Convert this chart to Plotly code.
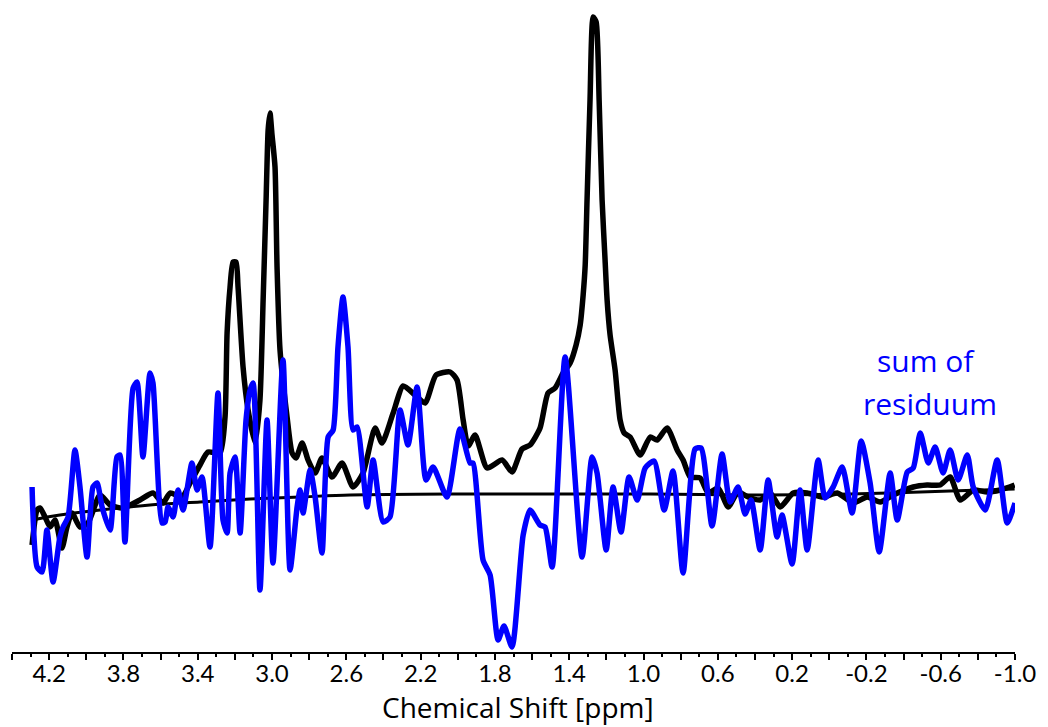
import plotly.graph_objects as go

# ---- data (ppm, arbitrary intensity units) ----
spec_ppm = [4.292, 4.265, 4.249, 4.222, 4.195, 4.168, 4.131, 4.104, 4.077, 4.034, 3.991, 3.926, 3.872, 3.802,
            3.711, 3.641, 3.587, 3.549, 3.485, 3.441, 3.388, 3.345, 3.280, 3.253, 3.242, 3.226, 3.210, 3.194,
            3.183, 3.156, 3.129, 3.091, 3.065, 3.048, 3.032, 3.021, 3.011, 3.000, 2.984, 2.973, 2.957, 2.919,
            2.892, 2.871, 2.838, 2.806, 2.768, 2.731, 2.677, 2.623, 2.564, 2.510, 2.445, 2.408, 2.348, 2.294,
            2.230, 2.176, 2.117, 2.041, 2.004, 1.971, 1.944, 1.907, 1.842, 1.761, 1.708, 1.654, 1.611, 1.557,
            1.514, 1.476, 1.433, 1.395, 1.363, 1.341, 1.325, 1.314, 1.304, 1.288, 1.271, 1.255, 1.239, 1.223,
            1.207, 1.196, 1.180, 1.153, 1.126, 1.104, 1.072, 1.018, 0.964, 0.927, 0.873, 0.819, 0.787, 0.749,
            0.695, 0.652, 0.598, 0.544, 0.491, 0.437, 0.372, 0.318, 0.264, 0.194, 0.119, 0.033, -0.043, -0.129,
            -0.204, -0.274, -0.344, -0.452, -0.527, -0.597, -0.651, -0.705, -0.775, -0.850, -0.920, -0.998]
spec_int = [-5.1, -1.6, -1.4, -2.3, -3.3, -2.6, -5.4, -3.3, -1.9, -3.3, -2.9, -0.1, -1.1, -1.4,
            -0.6, 0.1, -0.9, 0.1, -0.3, 1.1, 2.9, 4.2, 4.1, 7.7, 16.1, 20.7, 23.2, 23.2,
            20.7, 12.7, 8.4, 5.1, 9.4, 19.4, 29.4, 36.4, 38.1, 35.9, 32.7, 22.7, 14.4, 7.7,
            4.1, 3.6, 5.1, 3.4, 2.1, 3.6, 1.7, 3.1, 0.7, 2.1, 6.6, 5.1, 8.1, 10.8,
            9.9, 9.1, 11.9, 12.2, 11.4, 7.4, 4.8, 5.9, 2.6, 3.4, 2.2, 4.5, 4.9, 6.6,
            10.1, 10.6, 12.1, 13.1, 14.9, 16.9, 19.9, 22.9, 29.4, 39.4, 47.7, 47.2, 39.4, 29.4,
            23.4, 19.4, 15.9, 12.4, 7.4, 6.1, 5.7, 3.9, 5.7, 5.4, 6.6, 4.4, 3.4, 1.7,
            1.6, 0.1, 0.6, -1.3, 0.2, -0.3, -0.6, 0.1, -1.3, 0.1, 0.1, -0.3, 0.1, -0.9,
            -0.3, -0.8, -0.1, 0.7, 0.9, 0.9, 1.7, -0.6, 0.4, 0.2, 0.4, 0.9]

base_ppm = [4.292, 4.142, 3.926, 3.657, 3.388, 3.118, 2.849, 2.580, 2.041, 1.503, 0.964, 0.426, -0.113, -0.651, -0.998]
base_int = [-2.6, -2.1, -1.6, -1.1, -0.8, -0.5, -0.3, -0.1, 0.0, 0.0, 0.0, -0.1, 0.0, 0.3, 0.5]

res_ppm = [4.292, 4.265, 4.238, 4.212, 4.179, 4.142, 4.125, 4.098, 4.061, 4.034, 3.996, 3.964, 3.942, 3.915,
           3.872, 3.835, 3.818, 3.792, 3.748, 3.727, 3.695, 3.657, 3.641, 3.592, 3.576, 3.560, 3.533, 3.506,
           3.479, 3.431, 3.404, 3.377, 3.334, 3.291, 3.264, 3.242, 3.226, 3.199, 3.172, 3.140, 3.118, 3.102,
           3.065, 3.027, 2.995, 2.941, 2.903, 2.865, 2.849, 2.833, 2.795, 2.768, 2.731, 2.698, 2.671, 2.645,
           2.618, 2.591, 2.564, 2.542, 2.488, 2.456, 2.402, 2.365, 2.311, 2.268, 2.219, 2.171, 2.133, 2.058,
           1.988, 1.934, 1.918, 1.864, 1.826, 1.783, 1.751, 1.708, 1.648, 1.611, 1.557, 1.530, 1.492, 1.422,
           1.331, 1.277, 1.250, 1.201, 1.164, 1.121, 1.078, 1.034, 0.991, 0.943, 0.889, 0.841, 0.787, 0.722,
           0.690, 0.631, 0.577, 0.534, 0.491, 0.453, 0.421, 0.372, 0.329, 0.281, 0.254, 0.200, 0.157, 0.119,
           0.060, 0.022, -0.021, -0.070, -0.123, -0.172, -0.220, -0.269, -0.328, -0.366, -0.420, -0.452, -0.490, -0.533,
           -0.570, -0.613, -0.651, -0.694, -0.743, -0.775, -0.840, -0.904, -0.958, -1.000]
res_int = [0.7, -7.3, -7.8, -3.6, -8.8, -4.3, -3.3, -2.3, 4.4, 0.7, -6.3, 0.7, 1.1, -1.3,
           -3.6, 3.7, 3.9, -4.8, 10.6, 11.2, 3.7, 12.1, 11.1, -2.9, -2.8, -1.3, -2.3, 0.4,
           -1.6, 3.1, 0.4, 1.7, -5.3, 10.1, -2.6, -3.9, 2.1, 3.7, -3.9, 7.4, 10.4, 11.1,
           -9.6, 7.4, -6.9, 13.4, -7.6, -1.3, 0.4, -1.9, 2.4, -0.3, -5.9, 5.7, 6.4, 14.7,
           19.7, 14.7, 6.4, 6.7, -1.3, 3.4, -2.8, -2.3, 8.4, 4.9, 10.7, 1.4, 2.7, -0.3,
           6.5, 3.1, 3.1, -6.6, -8.1, -14.6, -13.2, -15.3, -4.1, -1.6, -3.1, -3.3, -7.3, 13.7,
           -6.3, 3.7, 2.1, -5.6, 0.7, -3.8, 1.7, -0.6, 2.6, 3.3, -1.6, 2.3, -7.9, 4.5,
           4.6, -3.2, 4.0, -0.8, 0.7, -2.0, -0.6, -5.6, 1.4, -4.3, -2.1, -7.0, 0.4, -5.6,
           3.4, -0.4, 0.7, 2.7, -1.9, 5.3, 1.1, -5.8, 2.1, -2.6, 2.2, 2.6, 6.1, 3.1,
           4.7, 2.1, 4.4, 1.4, 3.9, 0.7, -1.6, 3.4, -2.9, -0.9]

tick_vals = [4.4, 4.2, 4.0, 3.8, 3.6, 3.4, 3.2, 3.0, 2.8, 2.6, 2.4, 2.2, 2.0, 1.8, 1.6, 1.4, 1.2, 1.0,
             0.8, 0.6, 0.4, 0.2, 0.0, -0.2, -0.4, -0.6, -0.8, -1.0]
tick_text = ["", "4.2", "", "3.8", "", "3.4", "", "3.0", "", "2.6", "", "2.2", "", "1.8", "", "1.4", "", "1.0",
             "", "0.6", "", "0.2", "", "-0.2", "", "-0.6", "", "-1.0"]

TICK_FONT = "Lato"
TEXT_FONT = "Open Sans"

fig = go.Figure()
fig.add_trace(go.Scatter(x=base_ppm, y=base_int, mode="lines",
                         line=dict(color="black", width=3, shape="spline", smoothing=0.8),
                         hoverinfo="skip", showlegend=False))
fig.add_trace(go.Scatter(x=spec_ppm, y=spec_int, mode="lines",
                         line=dict(color="black", width=5.5, shape="spline", smoothing=0.6),
                         showlegend=False))
fig.add_trace(go.Scatter(x=res_ppm, y=res_int, mode="lines",
                         line=dict(color="#0000FF", width=5.5, shape="spline", smoothing=0.6),
                         showlegend=False))

fig.add_annotation(x=-0.522, y=13.4, text="sum of", showarrow=False,
                   font=dict(family=TEXT_FONT, size=30, color="#0000FF"))
fig.add_annotation(x=-0.544, y=9.1, text="residuum", showarrow=False,
                   font=dict(family=TEXT_FONT, size=30, color="#0000FF"))

# x-axis title placed as annotation just below tick labels
fig.add_annotation(xref="paper", yref="paper", x=0.504, y=-0.1168, yanchor="bottom",
                   text="Chemical Shift [ppm]", showarrow=False, borderpad=0,
                   font=dict(family=TEXT_FONT, size=28, color="black"))

fig.update_layout(
    width=1048, height=727,
    margin=dict(l=12, r=33, t=10, b=75),
    plot_bgcolor="white", paper_bgcolor="white",
    font=dict(family=TEXT_FONT, color="black"),
)
fig.update_xaxes(
    range=[4.4, -1.0], showgrid=False, zeroline=False,
    showline=True, linecolor="black", linewidth=2,
    ticks="outside", ticklen=6, tickwidth=2, tickcolor="black",
    tickmode="array", tickvals=tick_vals, ticktext=tick_text,
    ticklabelstandoff=-7,
    tickfont=dict(family=TICK_FONT, size=24, color="black"),
    minor=dict(dtick=0.1, tick0=0, ticks="outside", ticklen=3, tickwidth=2, tickcolor="black"),
)
fig.update_yaxes(range=[-15.8, 48.4], visible=False)

fig.write_html("out.html")
